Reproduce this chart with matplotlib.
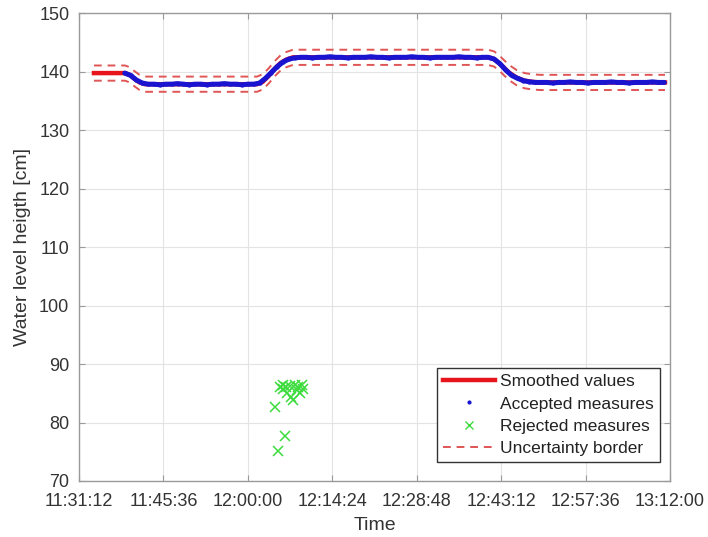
import matplotlib
matplotlib.use('Agg')
import matplotlib.pyplot as plt
import matplotlib.dates as mdates
from matplotlib.lines import Line2D
import pandas as pd

plt.rcParams['font.family'] = ['Liberation Sans', 'DejaVu Sans']

day = '2020-01-01 '

# Сглаженные значения (опорные точки)
smooth_time = ['11:33:45', '11:39:03', '11:39:52', '11:40:42', '11:41:32', '11:42:27',
               '12:01:34', '12:02:32', '12:03:32', '12:04:32', '12:05:32', '12:06:32',
               '12:07:42', '12:40:57', '12:42:02', '12:43:12', '12:44:32', '12:45:52',
               '12:47:12', '12:48:32', '12:49:50', '13:11:09']
smooth_val = [139.8, 139.8, 139.5, 138.8, 138.2, 137.9,
              137.9, 138.3, 139.3, 140.5, 141.5, 142.1,
              142.5, 142.5, 142.2, 141.2, 139.9, 139.0,
              138.5, 138.3, 138.2, 138.2]
uncertainty = 1.3

# Принятые измерения (каждую минуту с 11:39:00)
accepted_start = '11:39:00'
accepted_val = [139.8, 139.4, 138.6, 138.1, 137.9, 137.9, 137.8, 137.9, 137.9, 138.0,
                137.9, 137.8, 137.9, 137.9, 137.8, 137.9, 137.9, 138.0, 137.9, 137.9,
                137.8, 137.9, 137.9,
                138.1, 138.9, 139.9, 140.9, 141.7, 142.2, 142.4,
                142.5, 142.5, 142.4, 142.5, 142.5, 142.6, 142.5, 142.5, 142.4, 142.5,
                142.5, 142.5, 142.6, 142.5, 142.5, 142.4, 142.5, 142.5, 142.5, 142.6,
                142.5, 142.5, 142.4, 142.5, 142.5, 142.5, 142.5, 142.6, 142.5, 142.5,
                142.4, 142.5, 142.5,
                142.2, 141.4, 140.3, 139.4, 138.9, 138.5, 138.3, 138.2,
                138.2, 138.2, 138.1, 138.2, 138.2, 138.3, 138.2, 138.2, 138.1, 138.2,
                138.2, 138.2, 138.3, 138.2, 138.2, 138.1, 138.2, 138.2, 138.2, 138.3,
                138.2, 138.2]

# Отклонённые измерения
rejected_time = ['12:04:38', '12:05:09', '12:06:15', '12:05:25', '12:05:59', '12:06:33',
                 '12:07:07', '12:07:59', '12:08:33', '12:09:11', '12:09:28', '12:08:54',
                 '12:07:22', '12:06:43', '12:06:00', '12:08:19', '12:07:40']
rejected_val = [82.6, 75.1, 77.7, 86.1, 86.4, 86.0,
                86.2, 86.4, 86.1, 86.4, 85.8, 85.0,
                84.4, 85.0, 85.8, 85.5, 83.8]

tick_labels = ['11:31:12', '11:45:36', '12:00:00', '12:14:24', '12:28:48',
               '12:43:12', '12:57:36', '13:12:00']


def to_dt(times):
    return pd.to_datetime([day + t for t in times])


t_s = to_dt(smooth_time)
s_v = pd.Series(smooth_val)
t_a = pd.date_range(day + accepted_start, periods=len(accepted_val), freq='1min')
t_r = to_dt(rejected_time)
ticks = to_dt(tick_labels)

fig = plt.figure(figsize=(7.08, 5.37), dpi=100)
ax = fig.add_axes([0.1116, 0.1043, 0.8347, 0.8706])

ax.plot(t_s, s_v, color='#e8141c', lw=3.2, zorder=3)
ax.plot(t_a, accepted_val, color='#1a14d0', lw=3.6, zorder=4, solid_capstyle='round')
ax.plot(t_a, accepted_val, '.', color='#1a14d0', ms=4, zorder=4)
ax.plot(t_s, s_v + uncertainty, '--', color='#e05555', lw=1.4, dashes=(4, 3), zorder=2)
ax.plot(t_s, s_v - uncertainty, '--', color='#e05555', lw=1.4, dashes=(4, 3), zorder=2)
ax.plot(t_r, rejected_val, 'x', color='#3ddc3d', ms=7, mew=1.1, zorder=5)

ax.set_xlim(ticks[0], ticks[-1])
ax.set_ylim(70, 150)
ax.set_xticks(ticks)
ax.xaxis.set_major_formatter(mdates.DateFormatter('%H:%M:%S'))
ax.set_yticks(range(70, 151, 10))

ax.grid(True, color='#e3e3e3', lw=0.8)
ax.set_axisbelow(True)
for sp in ax.spines.values():
    sp.set_color('#9a9a9a')
    sp.set_linewidth(1.0)
ax.tick_params(direction='in', length=4, width=0.8, colors='#9a9a9a',
               labelcolor='#333333', labelsize=13, top=True, right=True)
ax.tick_params(axis='x', pad=9)
ax.tick_params(axis='y', pad=7)

ax.set_xlabel('Time', fontsize=14, color='#333333', labelpad=5)
ax.set_ylabel('Water level heigth [cm]', fontsize=14, color='#333333', labelpad=6)

handles = [
    Line2D([], [], color='#e8141c', lw=3.2),
    Line2D([], [], ls='', marker='.', color='#1a14d0', ms=4),
    Line2D([], [], ls='', marker='x', color='#3ddc3d', ms=6, mew=1.0),
    Line2D([], [], ls='--', color='#e05555', lw=1.4, dashes=(4, 3)),
]
labels = ['Smoothed values', 'Accepted measures', 'Rejected measures', 'Uncertainty border']
leg = ax.legend(handles, labels, loc='lower right', bbox_to_anchor=(0.983, 0.041),
                fontsize=12.5, frameon=True, fancybox=False, framealpha=1,
                edgecolor='#333333', handlelength=3.0, handletextpad=0.3,
                borderpad=0.35, labelspacing=0.4, borderaxespad=0)
leg.get_frame().set_linewidth(1.0)
for txt in leg.get_texts():
    txt.set_color('#222222')

fig.savefig('out.png', dpi=100)
